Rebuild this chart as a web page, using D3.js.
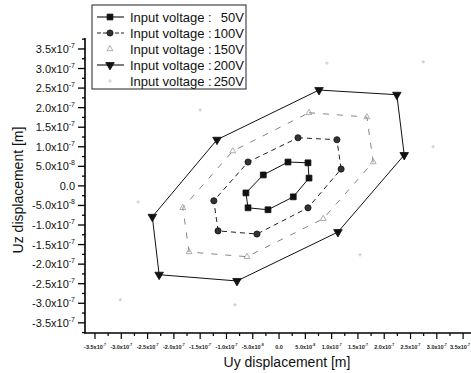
<!DOCTYPE html>
<html>
<head>
<meta charset="utf-8">
<script src="https://cdn.jsdelivr.net/npm/d3@7"></script>
<style>
  body { margin: 0; background: #fff; }
  svg { font-family: "Liberation Sans", Arial, sans-serif; }
</style>
</head>
<body>
<div id="chart"></div>
<script>
// values in units of 1e-7 m
const UNIT = 1e-7;
const voltages = ['50V', '100V', '150V', '200V', '250V'];

const uy50  = [0.17, 0.55, 0.57, 0.27, -0.21, -0.59, -0.63, -0.30];
const uz50  = [0.61, 0.59, 0.20, -0.28, -0.61, -0.56, -0.18, 0.28];
const uy100 = [0.36, 1.10, 1.18, 0.55, -0.42, -1.16, -1.24, -0.59];
const uz100 = [1.23, 1.18, 0.43, -0.56, -1.23, -1.15, -0.38, 0.61];
const uy150 = [0.57, 1.67, 1.79, 0.84, -0.61, -1.71, -1.83, -0.88];
const uz150 = [1.87, 1.76, 0.61, -0.84, -1.81, -1.69, -0.56, 0.89];
const uy200 = [0.76, 2.24, 2.38, 1.12, -0.80, -2.28, -2.41, -1.18];
const uz200 = [2.45, 2.33, 0.79, -1.18, -2.43, -2.27, -0.79, 1.18];
const uy250 = [0.91, 2.74, 2.93, 1.54, -0.84, -3.02, -2.68, -1.50];
const uz250 = [3.14, 3.17, 1.00, -1.76, -3.04, -2.91, -0.41, 1.94];

const xTicks = d3.range(-3.5, 3.51, 0.5);
const yTicks = d3.range(-3.5, 3.51, 0.5);

const W = 471, H = 373;
const svg = d3.select('#chart').append('svg').attr('width', W).attr('height', H);

const x = d3.scaleLinear().domain([-3.69e-7, 3.65e-7]).range([85, 471]);
const y = d3.scaleLinear().domain([-3.76e-7, 3.78e-7]).range([333, 38]);

function sciParts(v) {
  if (Math.abs(v) < 1e-12) return ['0.0', ''];
  const e = Math.floor(Math.log10(Math.abs(v)) + 1e-9);
  const m = v / Math.pow(10, e);
  return [m.toFixed(1) + 'x10', String(e)];
}

// y axis
const yAxis = svg.append('g');
yAxis.append('line').attr('x1', 85).attr('x2', 85).attr('y1', 38).attr('y2', 333)
  .attr('stroke', '#000').attr('stroke-width', 1.6);
d3.range(-3.75, 3.76, 0.25).forEach(t => {
  const major = Math.abs(t * 2 - Math.round(t * 2)) < 1e-6;
  yAxis.append('line').attr('x1', 85).attr('x2', major ? 78 : 82)
    .attr('y1', y(t * UNIT)).attr('y2', y(t * UNIT))
    .attr('stroke', '#000').attr('stroke-width', 1.3);
});
yTicks.forEach(t => {
  const p = sciParts(t * UNIT);
  const txt = yAxis.append('text').attr('x', 75).attr('y', y(t * UNIT) + 4)
    .attr('text-anchor', 'end').attr('font-size', 11).attr('fill', '#111');
  txt.append('tspan').text(p[0]);
  if (p[1]) txt.append('tspan').attr('dy', -5).attr('font-size', 7).text(p[1]);
});

// x axis
const xAxis = svg.append('g');
xAxis.append('line').attr('x1', 84).attr('x2', 471).attr('y1', 333).attr('y2', 333)
  .attr('stroke', '#000').attr('stroke-width', 1.5);
d3.range(-3.5, 3.6, 0.25).forEach(t => {
  const major = Math.abs(t * 2 - Math.round(t * 2)) < 1e-6;
  xAxis.append('line').attr('x1', x(t * UNIT)).attr('x2', x(t * UNIT))
    .attr('y1', 333).attr('y2', major ? 339 : 336)
    .attr('stroke', '#000').attr('stroke-width', 1.2);
});
xTicks.forEach((t, i) => {
  const p = sciParts(t * UNIT);
  const txt = xAxis.append('text').attr('x', x(t * UNIT)).attr('y', 349)
    .attr('text-anchor', 'middle').attr('font-size', 5.5).attr('font-weight', 'bold')
    .attr('fill', '#222');
  txt.append('tspan').text(p[0]);
  if (p[1]) txt.append('tspan').attr('dy', -3).attr('font-size', 3.5).text(p[1]);
  // keep the last label inside the window
  const w = txt.node().getComputedTextLength();
  if (x(t * UNIT) + w / 2 > W - 1) txt.attr('x', W - 1 - w / 2);
});

// axis titles
svg.append('text').attr('x', 287).attr('y', 367).attr('text-anchor', 'middle')
  .attr('font-size', 14).attr('fill', '#111').text('Uy displacement [m]');
svg.append('text').attr('transform', 'translate(23,190) rotate(-90)')
  .attr('text-anchor', 'middle').attr('font-size', 14).attr('fill', '#111')
  .text('Uz displacement [m]');

// series
const series = [
  { name: voltages[0], ux: uy50,  uz: uz50,  sym: d3.symbolSquare,   size: 34, fill: '#111', stroke: '#111', line: '#111', dash: null, lw: 1 },
  { name: voltages[1], ux: uy100, uz: uz100, sym: d3.symbolCircle,   size: 30, fill: '#333', stroke: '#111', line: '#222', dash: '5,4', lw: 1 },
  { name: voltages[2], ux: uy150, uz: uz150, sym: d3.symbolTriangle, size: 15, fill: 'none', stroke: '#999', line: '#777', dash: '6,8', lw: 0.9 },
  { name: voltages[3], ux: uy200, uz: uz200, sym: 'down',            size: 32, fill: '#111', stroke: '#111', line: '#111', dash: null, lw: 1 },
  { name: voltages[4], ux: uy250, uz: uz250, sym: d3.symbolCross,    size: 6,  fill: '#ccc', stroke: 'none', line: 'none', dash: null, lw: 0 }
];

function symPath(s) {
  if (s.sym === 'down') return d3.symbol(d3.symbolTriangle, s.size)();
  return d3.symbol(s.sym, s.size)();
}

const line = d3.line().x(d => x(d[0] * UNIT)).y(d => y(d[1] * UNIT)).curve(d3.curveLinearClosed);

series.forEach(s => {
  const pts = s.ux.map((v, i) => [v, s.uz[i]]);
  const g = svg.append('g');
  g.append('path').attr('d', line(pts)).attr('fill', 'none')
    .attr('stroke', s.line).attr('stroke-width', s.lw)
    .attr('stroke-dasharray', s.dash);
  g.selectAll('path.m').data(pts).enter().append('path').attr('class', 'm')
    .attr('d', symPath(s))
    .attr('transform', d => `translate(${x(d[0] * UNIT)},${y(d[1] * UNIT)})` + (s.sym === 'down' ? ' rotate(180)' : ''))
    .attr('fill', s.fill).attr('stroke', s.stroke).attr('stroke-width', 0.8);
});

// legend
const lg = svg.append('g');
lg.append('rect').attr('x', 92).attr('y', 5).attr('width', 154).attr('height', 84)
  .attr('fill', '#fff').attr('stroke', '#222').attr('stroke-width', 1);
series.forEach((s, i) => {
  const cy = 17 + i * 16;
  if (i !== 2 && i !== 4) {
    lg.append('line').attr('x1', 97).attr('x2', 124).attr('y1', cy).attr('y2', cy)
      .attr('stroke', s.line).attr('stroke-width', 1.1).attr('stroke-dasharray', s.dash ? '4,2' : null);
  }
  lg.append('path').attr('d', symPath(s))
    .attr('transform', `translate(110,${cy})` + (s.sym === 'down' ? ' rotate(180)' : ''))
    .attr('fill', s.fill).attr('stroke', s.stroke).attr('stroke-width', 0.8);
  lg.append('text').attr('x', 130).attr('y', cy + 5).attr('font-size', 13).attr('fill', '#111')
    .text('Input voltage : ');
  lg.append('text').attr('x', 244).attr('y', cy + 5).attr('text-anchor', 'end')
    .attr('font-size', 13).attr('fill', '#111').text(s.name);
});
</script>
</body>
</html>
